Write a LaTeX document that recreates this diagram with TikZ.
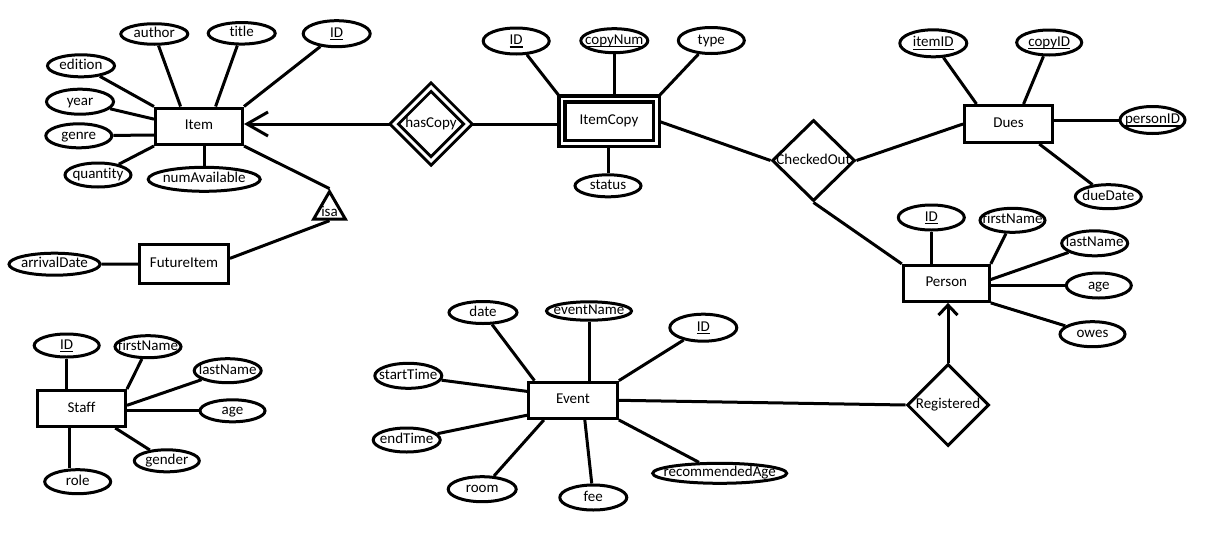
\documentclass[tikz,border=0pt]{standalone}
\usepackage{fontspec}
\setmainfont{Carlito}[Ligatures=NoCommon]
\usetikzlibrary{shapes.geometric,arrows.meta,backgrounds}
\newcommand\erlbl[1]{\makebox[0pt][c]{#1}}
\newcommand\erkey[1]{\setbox0=\hbox{#1}\rlap{\rule[-3pt]{\wd0}{1.3pt}}\box0}
\begin{document}
\begin{tikzpicture}[x=1pt,y=-1pt,line width=3pt,
  every node/.style={font=\fontsize{15}{18}\selectfont, text height=10pt, text depth=3pt, inner sep=0pt, line width=3pt},
  ent/.style={draw, fill=white, rectangle},
  weakent/.style={draw, fill=white, rectangle, double, double distance=2.5pt, line width=3.5pt},
  attr/.style={draw, fill=white, ellipse},
  rel/.style={draw, fill=white, diamond},
  weakrel/.style={draw, fill=white, diamond, double, double distance=3pt},
  isatri/.style={draw, fill=white, regular polygon, regular polygon sides=3},
  link/.style={line width=3pt},
  arrowbig/.style={-{Straight Barb[length=21pt,width=24pt]}},
  arrowsmall/.style={-{Straight Barb[length=10pt,width=19pt]}}]

% ---------- Item cluster ----------
\node[ent, minimum width=87pt, minimum height=36.5pt] (item) at (199,126.25) {\erlbl{Item}};
\node[attr, minimum width=67pt, minimum height=20.5pt] (author) at (154.3,34) {\erlbl{author}};
\node[attr, minimum width=67pt, minimum height=21.5pt] (title) at (241.7,33.3) {\erlbl{title}};
\node[attr, minimum width=67pt, minimum height=26pt] (itemid) at (336.7,33.7) {\erlbl{\erkey{ID}}};
\node[attr, minimum width=67pt, minimum height=22pt] (edition) at (81,65.8) {\erlbl{edition}};
\node[attr, minimum width=67pt, minimum height=25pt] (year) at (80,101.7) {\erlbl{year}};
\node[attr, minimum width=66pt, minimum height=24pt] (genre) at (78.8,135.8) {\erlbl{genre}};
\node[attr, minimum width=66pt, minimum height=24pt] (quantity) at (98,175) {\erlbl{quantity}};
\node[attr, minimum width=112pt, minimum height=24pt] (numavail) at (204.2,179.3) {\erlbl{numAvailable}};
\node[isatri, minimum size=31pt, label={[yshift=-3pt]center:isa}] (isa) at (329.5,210) {};
\node[ent, minimum width=89pt, minimum height=39pt] (futureitem) at (184,264) {\erlbl{FutureItem}};
\node[attr, minimum width=91pt, minimum height=22pt] (arrivaldate) at (54.5,264.2) {\erlbl{arrivalDate}};

% ---------- ItemCopy cluster ----------
\node[weakrel, minimum width=75pt, minimum height=75pt] (hascopy) at (431,124) {\erlbl{hasCopy}};
\node[weakent, minimum width=94.5pt, minimum height=44.5pt] (itemcopy) at (609,121) {\erlbl{ItemCopy}};
\node[attr, minimum width=66pt, minimum height=26pt] (icid) at (516.2,41) {\erlbl{\erkey{ID}}};
\node[attr, minimum width=67pt, minimum height=24pt] (copynum) at (614.3,40.7) {\erlbl{\erkey{copyNum}}};
\node[attr, minimum width=66pt, minimum height=26pt] (type) at (711.3,40.5) {\erlbl{type}};
\node[attr, minimum width=66pt, minimum height=22pt] (status) at (608,185.8) {\erlbl{status}};

% ---------- CheckedOut / Dues ----------
\node[rel, minimum width=83pt, minimum height=81pt] (checkedout) at (813.5,160.5) {\erlbl{CheckedOut}};
\node[ent, minimum width=88pt, minimum height=37pt] (dues) at (1008.5,124) {\erlbl{Dues}};
\node[attr, minimum width=67pt, minimum height=27pt] (itemid2) at (933.3,43.3) {\erlbl{\erkey{itemID}}};
\node[attr, minimum width=65pt, minimum height=25pt] (copyid) at (1049.2,42.5) {\erlbl{\erkey{copyID}}};
\node[attr, minimum width=65pt, minimum height=27pt] (personid) at (1152.5,120) {\erlbl{\erkey{personID}}};
\node[attr, minimum width=66pt, minimum height=24pt] (duedate) at (1108.3,196.7) {\erlbl{dueDate}};

% ---------- Person ----------
\node[ent, minimum width=86pt, minimum height=36pt] (person) at (946.3,283.4) {\erlbl{Person}};
\node[attr, minimum width=66pt, minimum height=25pt] (pid) at (931.3,217.5) {\erlbl{\erkey{ID}}};
\node[attr, minimum width=65pt, minimum height=24pt] (pfirst) at (1012.5,220.3) {\erlbl{firstName}};
\node[attr, minimum width=66pt, minimum height=25pt] (plast) at (1094.7,243.3) {\erlbl{lastName}};
\node[attr, minimum width=65pt, minimum height=25pt] (page) at (1098.8,285.5) {\erlbl{age}};
\node[attr, minimum width=65pt, minimum height=25pt] (powes) at (1092.5,334.2) {\erlbl{owes}};
\node[rel, minimum width=82pt, minimum height=82pt] (registered) at (948,405) {\erlbl{Registered}};

% ---------- Event ----------
\node[ent, minimum width=88.7pt, minimum height=36.3pt] (event) at (573,400.3) {\erlbl{Event}};
\node[attr, minimum width=68pt, minimum height=22pt] (date) at (483,312.5) {\erlbl{date}};
\node[attr, minimum width=85pt, minimum height=16pt] (eventname) at (589,311) {\erlbl{eventName}};
\node[attr, minimum width=67pt, minimum height=27pt] (eid) at (703.3,327.7) {\erlbl{\erkey{ID}}};
\node[attr, minimum width=67pt, minimum height=25pt] (starttime) at (408.3,375.8) {\erlbl{startTime}};
\node[attr, minimum width=67pt, minimum height=24pt] (endtime) at (406.7,440) {\erlbl{endTime}};
\node[attr, minimum width=68pt, minimum height=25pt] (room) at (482.2,489.2) {\erlbl{room}};
\node[attr, minimum width=67pt, minimum height=25pt] (fee) at (593.3,497.5) {\erlbl{fee}};
\node[attr, minimum width=134pt, minimum height=20pt] (recage) at (719.7,473.3) {\erlbl{recommendedAge}};

% ---------- Staff ----------
\node[ent, minimum width=88pt, minimum height=36pt] (staff) at (81.5,408.5) {\erlbl{Staff}};
\node[attr, minimum width=65pt, minimum height=23pt] (sid) at (66.7,345.5) {\erlbl{\erkey{ID}}};
\node[attr, minimum width=66pt, minimum height=22pt] (sfirst) at (148,346.7) {\erlbl{firstName}};
\node[attr, minimum width=67pt, minimum height=24pt] (slast) at (227.7,370.7) {\erlbl{lastName}};
\node[attr, minimum width=65pt, minimum height=22pt] (sage) at (232.5,410.8) {\erlbl{age}};
\node[attr, minimum width=65pt, minimum height=22pt] (sgender) at (166.8,460.8) {\erlbl{gender}};
\node[attr, minimum width=66pt, minimum height=24pt] (srole) at (77.7,481.7) {\erlbl{role}};

\begin{scope}[on background layer]
\fill[white] (0,0) rectangle (1207,557);
\begin{scope}[link]
% Item
\draw (edition) -- (item.north west);
\draw (year) -- (item.171.8);
\draw (genre) -- (item.191.4);
\draw (quantity) -- (item.south west);
\draw (numavail) -- (numavail |- item.south);
\draw (author) -- (item.133.5);
\draw (title) -- (item.50.6);
\draw (itemid) -- (item.north east);
\draw (item.south east) -- (isa.north);
\draw (isa.south) -- (futureitem.7.3);
\draw (arrivaldate) -- (futureitem);
\draw[arrowbig] (hascopy.west) -- (hascopy.west -| item.east);
% ItemCopy
\draw (hascopy.east) -- (hascopy.east -| itemcopy.west);
\draw (icid) -- (itemcopy.north west);
\draw (copynum) -- (copynum |- itemcopy.north);
\draw (type) -- (itemcopy.north east);
\draw (status) -- (status |- itemcopy.south);
\draw (itemcopy.east) -- (checkedout.west);
% CheckedOut / Dues
\draw (checkedout.east) -- (dues.west);
\draw (checkedout.south) -- (person.north west);
\draw (itemid2) -- (dues.148.8);
\draw (copyid) -- (dues.53.9);
\draw (personid) -- (personid -| dues.east);
\draw (duedate) -- (dues.327.9);
% Person
\draw (pid) -- (pid |- person.north);
\draw (pfirst) -- (person.north east);
\draw (plast) -- (person.5);
\draw (page) -- (page -| person.east);
\draw (powes) -- (person.south east);
\draw[arrowsmall] (registered.north) -- (registered.north |- person.south);
% Event
\draw (event.east) -- (registered.west);
\draw (date) -- (event.153.4);
\draw (eventname) -- (eventname |- event.north);
\draw (eid) -- (event.north east);
\draw (starttime) -- (event.169);
\draw (endtime) -- (event.198.3);
\draw (room) -- (event.214.6);
\draw (fee) -- (event.301.9);
\draw (recage) -- (event.south east);
% Staff
\draw (sid) -- (sid |- staff.north);
\draw (sfirst) -- (staff.north east);
\draw (slast) -- (staff.4.5);
\draw (sage) -- (sage -| staff.east);
\draw (sgender) -- (staff.330.3);
\draw (staff.239) -- (staff.239 |- srole.north);
\end{scope}
\end{scope}
\useasboundingbox (0,0) rectangle (1207,557);
\end{tikzpicture}
\end{document}
